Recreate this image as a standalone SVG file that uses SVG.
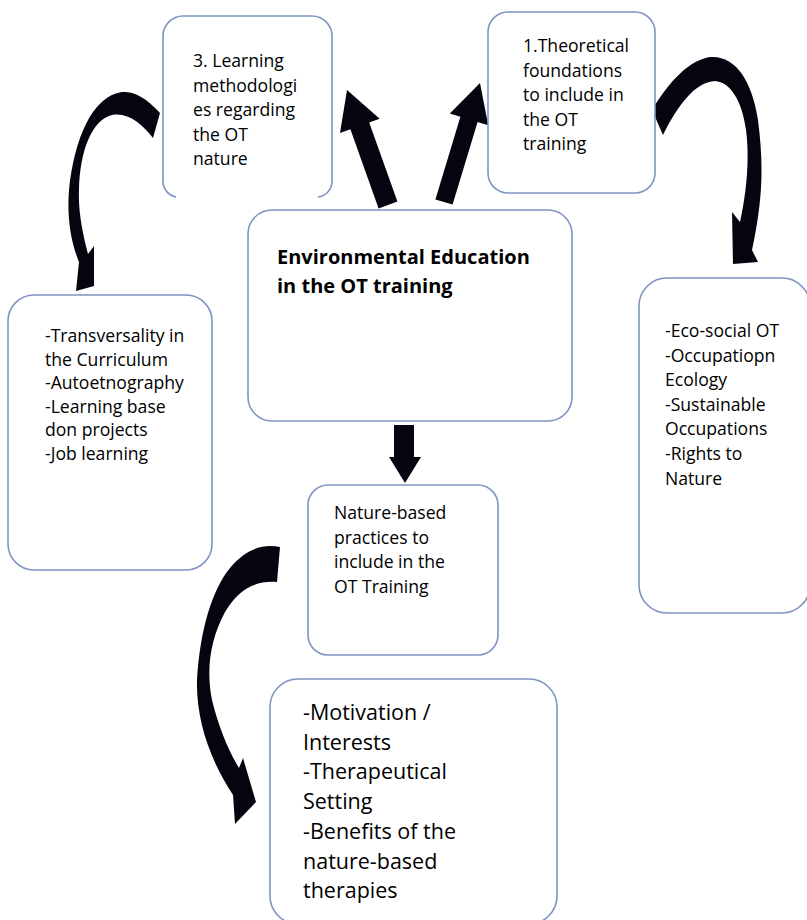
<svg xmlns="http://www.w3.org/2000/svg" width="807" height="920" viewBox="0 0 807 920">
<style>
.box{fill:#fff;stroke:#7f93c4;stroke-width:1.6}
.t{font-family:"Open Sans","Liberation Sans",sans-serif;font-size:17.6px;fill:#000}
.tb{font-family:"Open Sans","Liberation Sans",sans-serif;font-size:20px;font-weight:bold;fill:#000}
.tl{font-family:"Open Sans","Liberation Sans",sans-serif;font-size:21.5px;fill:#000}
.arr{fill:#05050f}
</style>
<rect width="807" height="920" fill="#fff"/>

<g id="connectors">
  <path class="arr" d="M378.6,208.4 L350.4,129.2 L340,133 L347,90 L379.7,118.7 L369.2,122.4 L397.4,201.6 Z"/>
  <path class="arr" d="M435.4,199.4 L460.4,116.8 L449.8,113.6 L480,83 L488.2,125.2 L477.6,122 L452.6,204.6 Z"/>
  <path class="arr" d="M394,425 L414,425 L414,457 L421,457 L405,483 L389,457 L394,457 Z"/>
  <path class="arr" d="M160,113 C145,96 132,91 122,92 C92,96 74,140 69,190 C67,215 70,240 79,262 L76,291 L94,286 L94,246 L88,254 C83,235 78,212 79,190 C80,150 92,120 112,115 C128,112 142,124 153,138 Z"/>
  <path class="arr" d="M652,110 C670,80 690,60 710,57 C735,55 752,80 758,120 C763,160 764,195 752,250 L758,262 L733,264 L732,212 L740,222 C746,195 750,160 746,130 C742,100 730,82 715,81 C695,82 678,105 663,135 Z"/>
  <path class="arr" d="M280,547 C262,543 245,550 230,568 C212,590 200,630 197,680 C196,720 210,760 233,795 L235,824 L256,802 L243,758 L239,768 C228,750 218,725 212,700 C206,670 210,640 225,612 C238,590 255,580 277,582 Z"/>
</g>

<g id="node-methodologies">
  <path class="box" d="M176,197 A16,16 0 0 1 163,181 L163,36 A20,20 0 0 1 183,16 L312,16 A20,20 0 0 1 332,36 L332,181 A16,16 0 0 1 318,197"/>
  <text class="t"><tspan x="193" y="67">3. Learning</tspan><tspan x="193" y="91.6">methodologi</tspan><tspan x="193" y="116.2">es regarding</tspan><tspan x="193" y="140.8">the OT</tspan><tspan x="193" y="165.4">nature</tspan></text>
</g>

<g id="node-theoretical">
  <rect class="box" x="488" y="12" width="167" height="181" rx="20"/>
  <text class="t"><tspan x="523" y="52">1.Theoretical</tspan><tspan x="523" y="76.6">foundations</tspan><tspan x="523" y="101.2">to include in</tspan><tspan x="523" y="125.8">the OT</tspan><tspan x="523" y="150.4">training</tspan></text>
</g>

<g id="node-center">
  <rect class="box" x="248" y="210" width="324" height="211" rx="24"/>
  <text class="tb"><tspan x="277" y="264">Environmental Education</tspan><tspan x="277" y="293">in the OT training</tspan></text>
</g>

<g id="node-learning-list">
  <rect class="box" x="8" y="295" width="204" height="275" rx="26"/>
  <text class="t"><tspan x="45" y="342">-Transversality in</tspan><tspan x="45" y="365.6">the Curriculum</tspan><tspan x="45" y="389.2">-Autoetnography</tspan><tspan x="45" y="412.8">-Learning base</tspan><tspan x="45" y="436.4">don projects</tspan><tspan x="45" y="460">-Job learning</tspan></text>
</g>

<g id="node-theory-list">
  <rect class="box" x="639" y="278" width="171" height="335" rx="28"/>
  <text class="t"><tspan x="665" y="337">-Eco-social OT</tspan><tspan x="665" y="361.6">-Occupatiopn</tspan><tspan x="665" y="386.2">Ecology</tspan><tspan x="665" y="410.8">-Sustainable</tspan><tspan x="665" y="435.4">Occupations</tspan><tspan x="665" y="460">-Rights to</tspan><tspan x="665" y="484.6">Nature</tspan></text>
</g>

<g id="node-nature">
  <rect class="box" x="308" y="485" width="190" height="170" rx="20"/>
  <text class="t"><tspan x="334" y="519">Nature-based</tspan><tspan x="334" y="543.6">practices to</tspan><tspan x="334" y="568.2">include in the</tspan><tspan x="334" y="592.8">OT Training</tspan></text>
</g>

<g id="node-nature-list">
  <rect class="box" x="270" y="679" width="287" height="245" rx="28"/>
  <text class="tl"><tspan x="303" y="720">-Motivation /</tspan><tspan x="303" y="749.7">Interests</tspan><tspan x="303" y="779.4">-Therapeutical</tspan><tspan x="303" y="809.1">Setting</tspan><tspan x="303" y="838.8">-Benefits of the</tspan><tspan x="303" y="868.5">nature-based</tspan><tspan x="303" y="898.2">therapies</tspan></text>
</g>
</svg>
